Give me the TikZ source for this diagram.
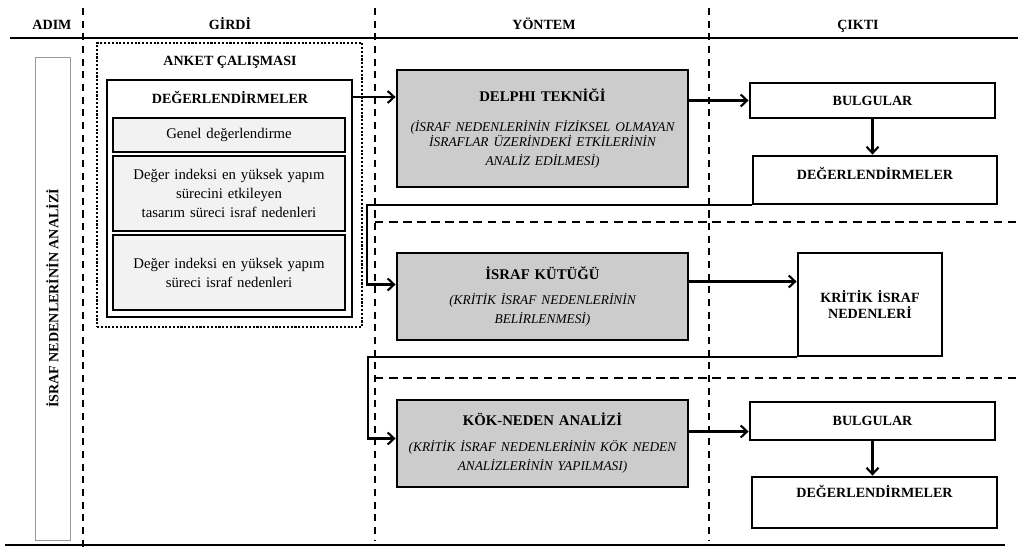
\documentclass[tikz,border=0pt]{standalone}
\usepackage{fontspec}
\setmainfont{Liberation Serif}
\usepackage{tikz}
\usetikzlibrary{calc,positioning,arrows.meta}
\tikzset{
    cell/.style={rectangle, draw=black, line width=2pt, text centered, inner sep=2pt},
    method/.style={cell, fill=black!20, minimum width=7.275cm, minimum height=2.175cm, text width=7cm},
    item/.style={cell, fill=black!5, minimum width=5.8cm, text width=5.5cm},
    result/.style={cell, fill=white, font=\bfseries},
    title/.style={font=\bfseries, inner sep=0pt},
    head/.style={title, anchor=base},
    line/.style={->, >={Straight Barb[length=4.5pt, width=8.5pt]}, line width=1.5pt},
    separator/.style={line width=1pt, dash pattern=on 6pt off 4pt},
}

\begin{document}
\begin{tikzpicture}
        [x=0.025cm, y=-0.025cm, every node/.style={font=\fontsize{10.5}{13.5}\selectfont}]
        \useasboundingbox (0,0) rectangle (1024,556);

        % Column headers and rules
        \node[head] (hadim) at (52,30) {ADIM};
        \node[head] (hgirdi) at (230,30) {GİRDİ};
        \node[head] (hyontem) at (544,30) {YÖNTEM};
        \node[head] (hcikti) at (858,30) {ÇIKTI};
        \draw[line width=1.9pt] (10,38) -- (1018,38);
        \draw[line width=1.4pt] (5,545) -- (1005,545);
        \draw[separator, dash pattern=on 5pt off 4pt] (83,8) -- (83,548);
        \draw[separator, dash pattern=on 5pt off 4pt] (375,8) -- (375,540);
        \draw[separator, dash pattern=on 5pt off 4pt] (709,8) -- (709,540);
        \draw[separator] (375,222) -- (1020,222);
        \draw[separator] (375,378) -- (1020,378);

        % Step
        \node[draw=black!40, line width=0.6pt, rotate=90, minimum width=12.075cm, minimum height=0.875cm, font=\bfseries]
            (adim) at (52.5,298.5) {İSRAF NEDENLERİNİN ANALİZİ};

        % Input
        \node[draw, line width=2pt, dash pattern=on 1.5pt off 1.2pt, minimum width=6.625cm, minimum height=7.1cm]
            (anket) at (229.5,185) {};
        \node[title] (anketbaslik) at (230,62) {ANKET ÇALIŞMASI};
        \node[cell, minimum width=6.125cm, minimum height=5.925cm] (degr) at (229.5,198.5) {};
        \node[title] (degrbaslik) at (230,97) {DEĞERLENDİRMELER};
        \node[item, minimum height=0.85cm] (genel) at (229,135) {Genel değerlendirme};
        \node[item, minimum height=1.875cm] (tasarim) at (229,193.5)
            {Değer indeksi en yüksek yapım\\ sürecini etkileyen\\ tasarım süreci israf nedenleri};
        \node[item, minimum height=1.875cm] (yapim) at (229,272.5)
            {Değer indeksi en yüksek yapım\\ süreci israf nedenleri\\[8pt]};

        % Methods
        \node[method, minimum height=2.925cm] (delphi) at (542.5,128.5)
            {\textbf{DELPHI TEKNİĞİ}\\[11pt]
             {\itshape\fontsize{9.5}{10.5}\selectfont (İSRAF NEDENLERİNİN FİZİKSEL OLMAYAN\\ İSRAFLAR ÜZERİNDEKİ ETKİLERİNİN\\ ANALİZ EDİLMESİ)}};
        \node[method] (kutugu) at (542.5,296.5)
            {\textbf{İSRAF KÜTÜĞÜ}\\[6pt]
             {\itshape\fontsize{9.5}{12}\selectfont (KRİTİK İSRAF NEDENLERİNİN\\ BELİRLENMESİ)}};
        \node[method] (kok) at (542.5,443.5)
            {\textbf{KÖK-NEDEN ANALİZİ}\\[8pt]
             {\itshape\fontsize{9.5}{10.5}\selectfont (KRİTİK İSRAF NEDENLERİNİN KÖK NEDEN\\ ANALİZLERİNİN YAPILMASI)}\\[8pt]};

        % Outputs
        \node[result, minimum width=6.125cm, minimum height=0.875cm] (bul1) at (872.5,100.5) {BULGULAR};
        \node[result, minimum width=6.1cm, minimum height=1.2cm, text height=8pt, text depth=9pt] (ozet1) at (875,180) {DEĞERLENDİRMELER};
        \node[result, minimum width=3.6cm, minimum height=2.575cm, text width=3.2cm] (kritik) at (870,304.5) {KRİTİK İSRAF\\ NEDENLERİ};
        \node[result, minimum width=6.125cm, minimum height=0.95cm] (bul2) at (872.5,421) {BULGULAR};
        \node[result, minimum width=6.125cm, minimum height=1.275cm, text height=8pt, text depth=15pt] (ozet2) at (874.5,502.5) {DEĞERLENDİRMELER};

        % Arrows
        \draw[line] (degrbaslik -| degr.east) -- (degrbaslik -| delphi.west);
        \draw[line] (bul1 -| delphi.east) -- (bul1.west);
        \draw[line] (bul1.south) -- (bul1.south |- ozet1.north);
        \draw[line] (ozet1.south west) -| ($(kutugu.west)+(-29,-12)$) -- ($(kutugu.west)+(0,-12)$);
        \coordinate (k1) at ($(kutugu.east)+(0,-15)$);
        \draw[line] (k1) -- (k1 -| kritik.west);
        \draw[line] (kritik.south west) -| ($(kok.west)+(-28,-5)$) -- ($(kok.west)+(0,-5)$);
        \coordinate (k2) at ($(kok.east)+(0,-12)$);
        \draw[line] (k2) -- (k2 -| bul2.west);
        \draw[line] (bul2.south) -- (bul2.south |- ozet2.north);
    \end{tikzpicture}
\end{document}
